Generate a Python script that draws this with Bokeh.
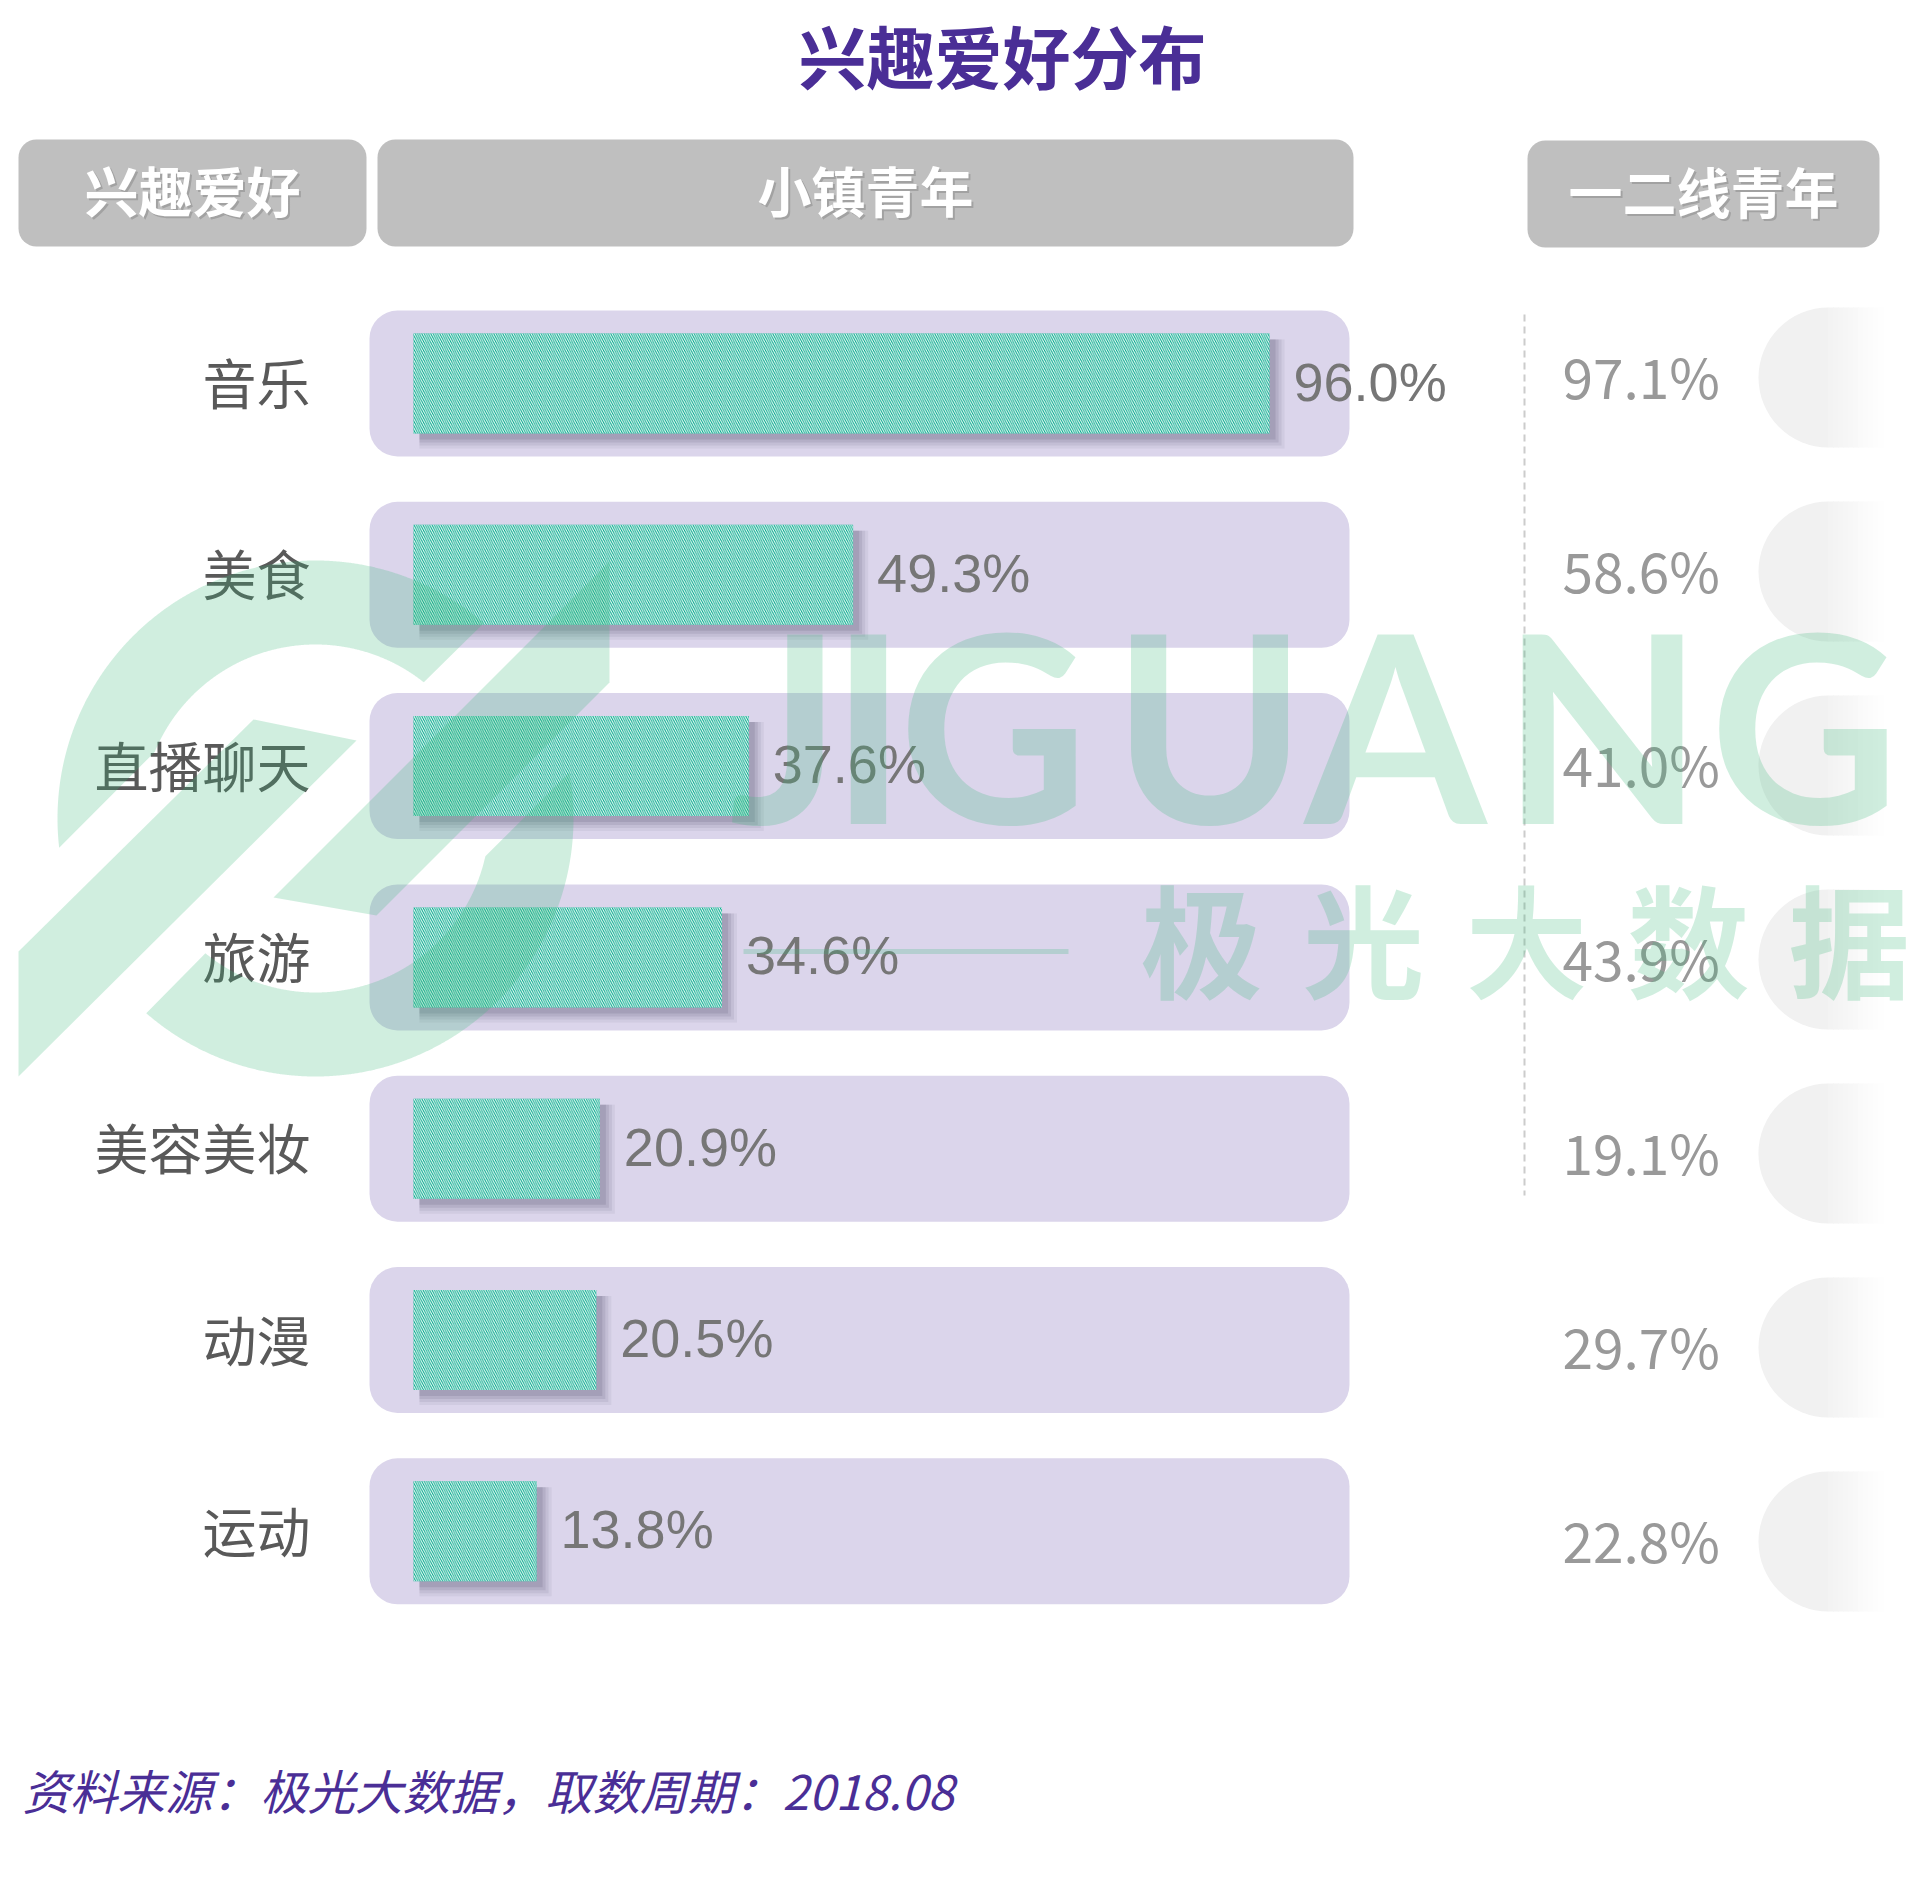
import numpy as np
from bokeh.plotting import figure
from bokeh.models import Range1d
from bokeh.core.properties import value
from bokeh.embed import file_html
from bokeh.resources import INLINE

# ---------------- data ----------------
categories = ["音乐", "美食", "直播聊天", "旅游", "美容美妆", "动漫", "运动"]
town_youth = [96.0, 49.3, 37.6, 34.6, 20.9, 20.5, 13.8]     # 小镇青年 (%)
city_youth = [97.1, 58.6, 41.0, 43.9, 19.1, 29.7, 22.8]     # 一二线青年 (%)
headers = ["兴趣爱好", "小镇青年", "一二线青年"]
title_text = "兴趣爱好分布"
source_note = "资料来源：极光大数据，取数周期：2018.08"
watermark_word = "JIGUANG"
watermark_cn = ["极", "光", "大", "数", "据"]

# ---------------- layout helpers (pixel -> data) ----------------
W, H = 1928, 1878
X0, KX = 413.0, 8.917     # pixel of 0 %, pixels per %
Y0, KY = 383.0, 191.3     # pixel of first row centre, pixels per row


def fx(px):
    return (np.asarray(px, dtype=float) - X0) / KX


def fy(py):
    return (np.asarray(py, dtype=float) - Y0) / KY


rows = list(range(len(categories)))

p = figure(width=W, height=H, output_backend="svg", toolbar_location=None,
           x_range=Range1d(float(fx(0)), float(fx(W))),
           y_range=Range1d(float(fy(H)), float(fy(0))),
           x_axis_location=None, y_axis_location=None,
           min_border=0, outline_line_color=None,
           background_fill_color="white", border_fill_color="white")
p.grid.visible = False

CJK = value("Noto Sans CJK SC")

# ---------------- header boxes ----------------
hdr_boxes = [(18, 366, 139, 246), (377, 1353, 139, 246), (1527, 1879, 140, 247)]
for (l, r, t, b), txt in zip(hdr_boxes, headers):
    p.quad(left=[float(fx(l))], right=[float(fx(r))], top=[float(fy(t))], bottom=[float(fy(b))],
           fill_color="#BFBFBF", line_color=None, border_radius=18)
    cx, cy = (l + r) / 2, (t + b) / 2 - 4
    p.text(x=[float(fx(cx + 2))], y=[float(fy(cy + 2))], text=[txt], text_font=CJK,
           text_font_style="bold", text_font_size="54px", text_color="#8F8F8F", text_alpha=0.6,
           text_align="center", text_baseline="middle")
    p.text(x=[float(fx(cx))], y=[float(fy(cy))], text=[txt], text_font=CJK,
           text_font_style="bold", text_font_size="54px", text_color="white",
           text_align="center", text_baseline="middle")

# ---------------- row background boxes ----------------
box_h = 146 / KY
p.quad(left=float(fx(369)), right=float(fx(1349)),
       top=[r - box_h / 2 for r in rows], bottom=[r + box_h / 2 for r in rows],
       fill_color="#DBD5EB", line_color=None, border_radius=28)

# ---------------- bar shadows ----------------
bar_h = 100 / KY
for k, a in [(15, 0.08), (12, 0.11), (9, 0.14), (6, 0.18)]:
    p.quad(left=float(fx(X0 + 6)), right=[v + k / KX for v in town_youth],
           top=[r - bar_h / 2 + 6 / KY for r in rows],
           bottom=[r + bar_h / 2 + k / KY for r in rows],
           fill_color="#5D5773", fill_alpha=a, line_color=None)

# ---------------- bars ----------------
p.hbar(y=rows, left=0, right=town_youth, height=bar_h,
       fill_color="#00A88A", line_color=None,
       hatch_pattern="\\", hatch_color="white", hatch_scale=4.5, hatch_weight=1.0)

# ---------------- value labels (小镇青年) ----------------
p.text(x=[v + 24 / KX for v in town_youth], y=[r - 2 / KY for r in rows],
       text=[f"{v:.1f}%" for v in town_youth],
       text_font=value("Liberation Sans"), text_font_size="54px", text_color="#767676",
       text_align="left", text_baseline="middle")

# ---------------- category labels ----------------
p.text(x=float(fx(310)), y=[r - 2 / KY for r in rows], text=categories, text_font=CJK,
       text_font_size="54px", text_color="#595959",
       text_align="right", text_baseline="middle")

# ---------------- right column pills (gradient) ----------------
right_y = [float(fy(374 + 194.0 * i)) for i in rows]
pill_y = [float(fy(377 + 194.0 * i)) for i in rows]
p.wedge(x=float(fx(1828)), y=pill_y, radius=70, radius_units="screen",
        start_angle=np.pi / 2, end_angle=3 * np.pi / 2,
        fill_color="#F1F1F1", line_color=None)
edges = np.arange(1828, 1928, 5)
for e in edges:
    frac = min(1.0, (e - 1828) / 55.0)
    g = int(round(243 + (255 - 243) * frac))
    if g >= 255:
        continue
    col = "#%02x%02x%02x" % (g, g, g)
    p.quad(left=float(fx(e - 0.5)), right=float(fx(e + 5.5)),
           top=[y - 70 / KY for y in pill_y], bottom=[y + 70 / KY for y in pill_y],
           fill_color=col, line_color=None)

# ---------------- right column labels (一二线青年) ----------------
p.text(x=float(fx(1562)), y=right_y, text=[f"{v:.1f}%" for v in city_youth],
       text_font=CJK, text_font_size="55px", text_color="#999999",
       text_align="left", text_baseline="middle")

# dashed separator
p.segment(x0=float(fx(1524)), y0=float(fy(314)), x1=float(fx(1524)), y1=float(fy(1195)),
          line_color="#CCCCCC", line_width=2, line_dash="7 5")

# ---------------- watermark ----------------
WM, WA = "#3CB878", 0.24
cxl, cyl, R, r = 315.0, 818.0, 258.0, 174.0
tc = cxl - cyl


def ring_piece(cond, start_deg):
    ang = np.radians(np.arange(0, 360, 0.25) + start_deg)
    out = []
    for rad in (R, r):
        xs = cxl + rad * np.cos(ang)
        ys = cyl + rad * np.sin(ang)
        m = cond(xs, ys)
        out.append((xs[m], ys[m]))
    (ox, oy), (ix, iy) = out
    return np.concatenate([ox, ix[::-1]]), np.concatenate([oy, iy[::-1]])


pa = ring_piece(lambda x, y: ((x + y) <= 906) | (((x + y) <= 1106) & ((x - y) > tc)), 45)
pb = ring_piece(lambda x, y: (((x - y) < tc) & ((x + y) >= 1157)) | (((x - y) >= tc) & ((x + y) >= 1340)), 225)
band1 = (np.array([18, 253, 356, 18]), np.array([951, 719, 740, 1076]))
band2 = (np.array([273, 609, 609, 376]), np.array([897, 561, 682, 915]))
xs_list = [fx(s[0]).tolist() for s in (pa, pb, band1, band2)]
ys_list = [fy(s[1]).tolist() for s in (pa, pb, band1, band2)]
p.patches(xs=xs_list, ys=ys_list, fill_color=WM, fill_alpha=WA, line_color=None)

letter_cx = [785, 868, 993, 1209, 1395, 1602, 1804]
p.text(x=fx(letter_cx).tolist(), y=[float(fy(722))] * len(watermark_word),
       text=list(watermark_word), text_font=value("Lato"), text_font_style="bold",
       text_font_size="262px", text_color=WM, text_alpha=WA,
       text_align="center", text_baseline="middle")
cn_cx = [1201, 1363, 1526, 1688, 1849]
p.text(x=fx(cn_cx).tolist(), y=[float(fy(935))] * len(watermark_cn), text=watermark_cn,
       text_font=CJK, text_font_style="bold", text_font_size="122px",
       text_color=WM, text_alpha=WA, text_align="center", text_baseline="middle")
p.segment(x0=float(fx(743)), y0=float(fy(951)), x1=float(fx(1068)), y1=float(fy(951)),
          line_color=WM, line_alpha=WA, line_width=5)

# ---------------- title & source ----------------
p.text(x=float(fx(1002)), y=float(fy(54)), text=[title_text], text_font=CJK,
       text_font_style="bold", text_font_size="68px", text_color="#4A2E96",
       text_align="center", text_baseline="middle")
p.text(x=float(fx(22)), y=float(fy(1789)), text=[source_note], text_font=CJK,
       text_font_style="italic", text_font_size="47.5px", text_color="#4A2E96",
       text_align="left", text_baseline="middle")

open("out.html", "w").write(file_html(p, INLINE))
